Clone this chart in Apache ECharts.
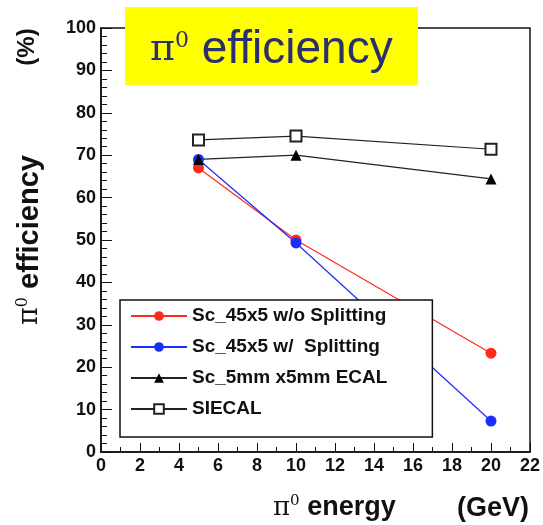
<!DOCTYPE html>
<html>
<head>
<meta charset="utf-8">
<script src="https://cdn.jsdelivr.net/npm/echarts@6/dist/echarts.min.js"></script>
<style>
  html, body { margin: 0; padding: 0; background: #fff; }
  #chart { width: 543px; height: 525px; }
</style>
</head>
<body>
<div id="chart"></div>
<script>
// pi0 energy (GeV)
const energies = [5, 10, 20];
const seriesNames = ['Sc_45x5 w/o Splitting', 'Sc_45x5 w/  Splitting', 'Sc_5mm x5mm ECAL', 'SIECAL'];
const effNoSplit = [67, 50, 23.3];
const effSplit = [69, 49.3, 7.3];
const effScEcal = [69, 70, 64.4];
const effSiEcal = [73.6, 74.5, 71.4];

const toPairs = function (vals) {
    return energies.map(function (e, i) { return [e, vals[i]]; });
};

var dom = document.getElementById('chart');
var myChart = echarts.init(dom, null, { renderer: 'canvas' });

const boldFont = 'Liberation Sans';

var option = {
    animation: false,
    backgroundColor: '#fff',
    grid: {
        left: 101,
        right: 12,
        top: 28,
        bottom: 73,
        show: true,
        borderColor: '#111',
        borderWidth: 1.5,
        backgroundColor: 'transparent'
    },
    xAxis: {
        type: 'value',
        min: 0,
        max: 22,
        interval: 2,
        axisLine: { onZero: false, lineStyle: { color: '#111', width: 1.5 } },
        axisTick: { inside: true, length: 9, lineStyle: { color: '#111' } },
        minorTick: { show: true, splitNumber: 2, length: 5, lineStyle: { color: '#111' } },
        splitLine: { show: false },
        axisLabel: {
            color: '#111', fontFamily: boldFont, fontWeight: 'bold', fontSize: 18, margin: 5
        }
    },
    yAxis: {
        type: 'value',
        min: 0,
        max: 100,
        interval: 10,
        axisLine: { show: true, lineStyle: { color: '#111', width: 1.5 } },
        axisTick: { show: true, inside: true, length: 11, lineStyle: { color: '#111' } },
        minorTick: { show: true, splitNumber: 5, length: 6, lineStyle: { color: '#111' } },
        splitLine: { show: false },
        axisLabel: {
            color: '#111', fontFamily: boldFont, fontWeight: 'bold', fontSize: 18, margin: 5
        }
    },
    legend: {
        orient: 'vertical',
        left: 120,
        top: 300,
        padding: [6, 45, 18, 10],
        itemGap: 11,
        itemWidth: 56,
        itemHeight: 12,
        backgroundColor: '#fff',
        borderColor: '#111',
        borderWidth: 1.5,
        borderRadius: 0,
        data: seriesNames,
        textStyle: {
            color: '#111', fontFamily: boldFont, fontWeight: 'bold', fontSize: 19, lineHeight: 20
        }
    },
    series: [
        {
            name: seriesNames[0],
            type: 'line',
            data: toPairs(effNoSplit),
            symbol: 'circle',
            symbolSize: 11,
            itemStyle: { color: '#ff2a1a' },
            lineStyle: { color: '#ff2a1a', width: 1.2 }
        },
        {
            name: seriesNames[1],
            type: 'line',
            data: toPairs(effSplit),
            symbol: 'circle',
            symbolSize: 11,
            itemStyle: { color: '#1a2cff' },
            lineStyle: { color: '#1a2cff', width: 1.2 }
        },
        {
            name: seriesNames[2],
            type: 'line',
            data: toPairs(effScEcal),
            symbol: 'triangle',
            symbolSize: 11,
            itemStyle: { color: '#000' },
            lineStyle: { color: '#222', width: 1.2 }
        },
        {
            name: seriesNames[3],
            type: 'line',
            data: toPairs(effSiEcal),
            symbol: 'emptyRect',
            symbolSize: 11,
            itemStyle: { color: '#222', borderWidth: 1.2 },
            lineStyle: { color: '#222', width: 1.2 }
        }
    ],
    graphic: [
        {
            type: 'rect',
            left: 125,
            top: 7,
            shape: { width: 293, height: 78 },
            style: { fill: '#ffff00' },
            z: 10
        },
        {
            type: 'text',
            left: 150,
            top: 27,
            z: 11,
            style: {
                text: '{p|π}{s|0}{t| efficiency}',
                rich: {
                    p: { fontFamily: 'DejaVu Serif', fontSize: 38, fill: '#2b2f6b' },
                    s: { fontFamily: 'DejaVu Serif', fontSize: 22, fill: '#2b2f6b', padding: [0, 0, 18, 0] },
                    t: { fontFamily: 'Liberation Sans', fontSize: 46, fill: '#2b2f6b' }
                }
            }
        },
        {
            type: 'text',
            x: 30,
            y: 240,
            rotation: Math.PI / 2,
            z: 11,
            style: {
                text: '{p|π}{s|0}{t| efficiency}',
                align: 'center',
                verticalAlign: 'middle',
                rich: {
                    p: { fontFamily: 'DejaVu Serif', fontSize: 27, fill: '#111' },
                    s: { fontFamily: 'DejaVu Serif', fontSize: 16, fill: '#111', padding: [0, 0, 14, 0] },
                    t: { fontFamily: boldFont, fontWeight: 'bold', fontSize: 29, fill: '#111' }
                }
            }
        },
        {
            type: 'text',
            x: 27,
            y: 47,
            rotation: Math.PI / 2,
            z: 11,
            style: {
                text: '(%)',
                align: 'center',
                verticalAlign: 'middle',
                font: 'bold 24px "Liberation Sans"',
                fill: '#111'
            }
        },
        {
            type: 'text',
            left: 273,
            top: 494,
            z: 11,
            style: {
                text: '{p|π}{s|0}{t| energy}',
                rich: {
                    p: { fontFamily: 'DejaVu Serif', fontSize: 26, fill: '#111' },
                    s: { fontFamily: 'DejaVu Serif', fontSize: 15, fill: '#111', padding: [0, 0, 13, 0] },
                    t: { fontFamily: boldFont, fontWeight: 'bold', fontSize: 27, fill: '#111' }
                }
            }
        },
        {
            type: 'text',
            left: 457,
            top: 495,
            z: 11,
            style: {
                text: '(GeV)',
                font: 'bold 27px "Liberation Sans"',
                fill: '#111'
            }
        }
    ]
};

myChart.setOption(option);
</script>
</body>
</html>
